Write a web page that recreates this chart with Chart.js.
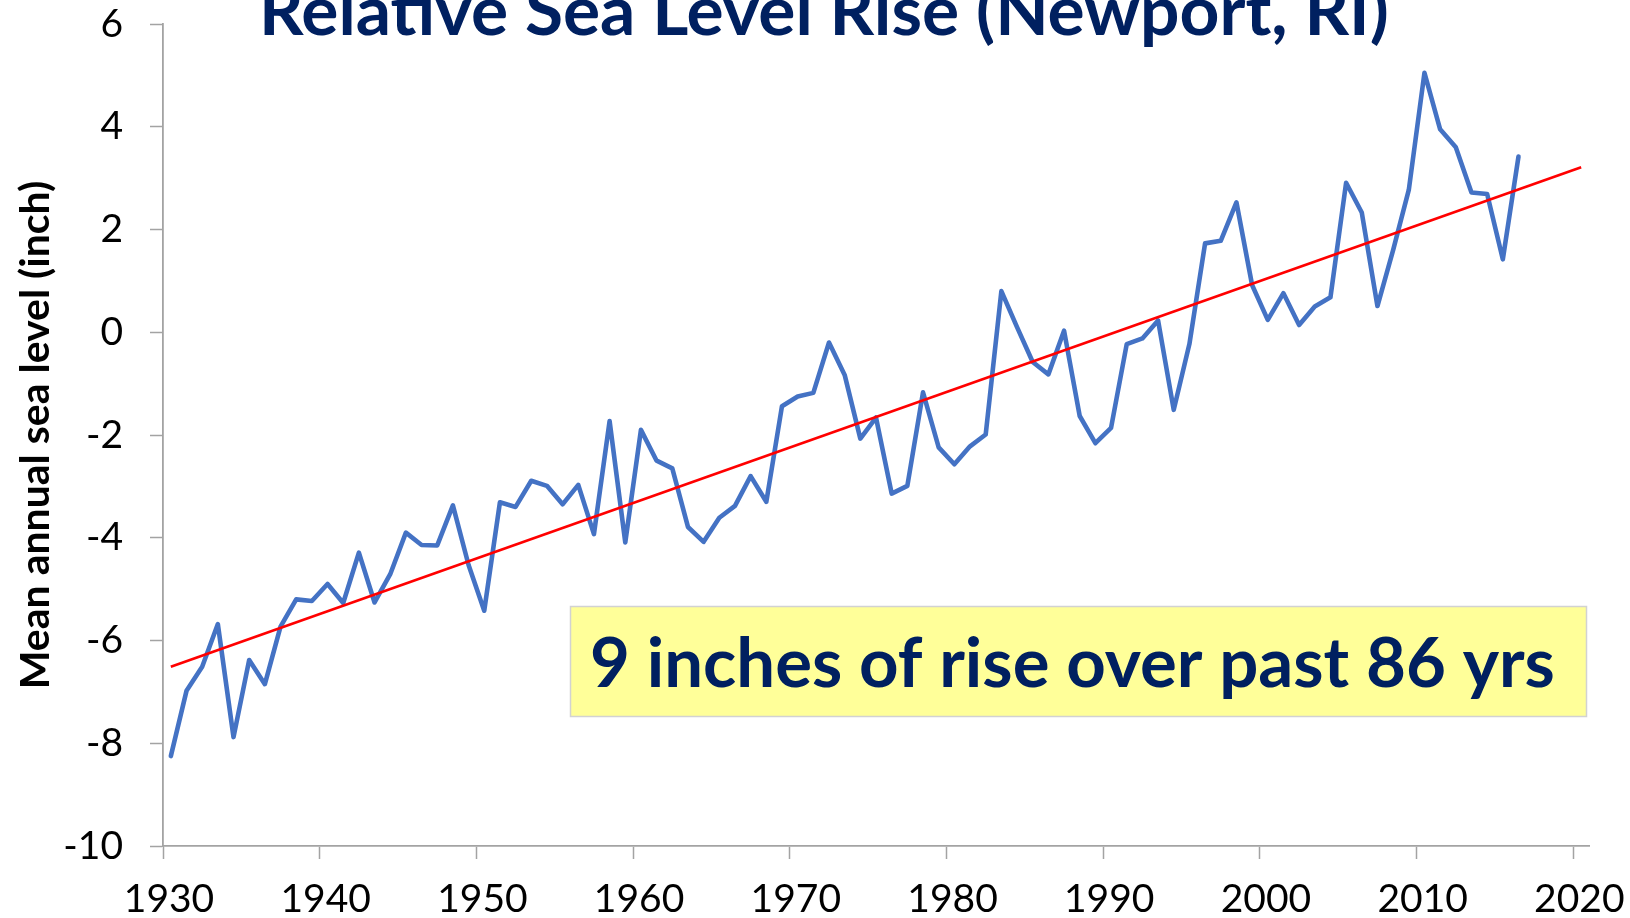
<!DOCTYPE html>
<html>
<head>
<meta charset="utf-8">
<title>Relative Sea Level Rise (Newport, RI)</title>
<style>
  html, body { margin: 0; padding: 0; background: #ffffff; }
  #wrap { width: 1630px; height: 918px; position: relative; overflow: hidden; }
  canvas { display: block; }
</style>
<script src="https://cdn.jsdelivr.net/npm/chart.js@4.4.1/dist/chart.umd.min.js"></script>
</head>
<body>
<div id="wrap"><canvas id="chart" width="1630" height="918"></canvas></div>
<script>
// Annual mean relative sea level at Newport, RI (inches)
const years = [
  1930, 1931, 1932, 1933, 1934, 1935, 1936, 1937, 1938, 1939,
  1940, 1941, 1942, 1943, 1944, 1945, 1946, 1947, 1948, 1949,
  1950, 1951, 1952, 1953, 1954, 1955, 1956, 1957, 1958, 1959,
  1960, 1961, 1962, 1963, 1964, 1965, 1966, 1967, 1968, 1969,
  1970, 1971, 1972, 1973, 1974, 1975, 1976, 1977, 1978, 1979,
  1980, 1981, 1982, 1983, 1984, 1985, 1986, 1987, 1988, 1989,
  1990, 1991, 1992, 1993, 1994, 1995, 1996, 1997, 1998, 1999,
  2000, 2001, 2002, 2003, 2004, 2005, 2006, 2007, 2008, 2009,
  2010, 2011, 2012, 2013, 2014, 2015, 2016
];
const seaLevel = [
  -8.25, -6.98, -6.51, -5.68, -7.88, -6.38, -6.85, -5.73, -5.20, -5.23,
  -4.90, -5.27, -4.29, -5.26, -4.71, -3.90, -4.14, -4.15, -3.37, -4.53,
  -5.42, -3.31, -3.40, -2.89, -2.99, -3.35, -2.97, -3.93, -1.73, -4.09,
  -1.90, -2.50, -2.65, -3.79, -4.08, -3.61, -3.38, -2.80, -3.30, -1.44,
  -1.25, -1.18, -0.20, -0.83, -2.07, -1.66, -3.14, -2.99, -1.17, -2.24,
  -2.57, -2.22, -1.99,  0.80,  0.10, -0.58, -0.82,  0.03, -1.63, -2.16,
  -1.86, -0.23, -0.12,  0.23, -1.51, -0.23,  1.73,  1.78,  2.53,  0.92,
   0.24,  0.76,  0.14,  0.50,  0.68,  2.91,  2.33,  0.51,  1.60,  2.77,
   5.05,  3.95,  3.60,  2.72,  2.69,  1.42,  3.42
];

// Linear trend line end points (mid-year positions)
const trendYears = [1930.5, 2020.5];
const trendLevel = [-6.51, 3.21];

// Axis tick values
const xTickValues = [1930, 1940, 1950, 1960, 1970, 1980, 1990, 2000, 2010, 2020];
const yTickValues = [-10, -8, -6, -4, -2, 0, 2, 4, 6];

const titleText = 'Relative Sea Level Rise (Newport, RI)';
const yAxisTitle = 'Mean annual sea level (inch)';
const noteText = '9 inches of rise over past 86 yrs';

const NAVY = '#002060';
const AXIS_GREY = '#a3a3a3';
const FONT = 'Lato, "Open Sans", sans-serif';

// Annual means are plotted at the middle of each year
const seriesPoints = years.map((yr, i) => ({ x: yr + 0.5, y: seaLevel[i] }));
const trendPoints = trendYears.map((yr, i) => ({ x: yr, y: trendLevel[i] }));

// Font size that makes a string span the given pixel width
function fitFont(ctx, text, width, weight) {
  ctx.font = `${weight} 100px ${FONT}`;
  const w = ctx.measureText(text).width;
  return 100 * width / w;
}

// Title above the plot and the yellow call-out box
const overlayText = {
  id: 'overlayText',
  afterDraw(chart) {
    const ctx = chart.ctx;
    ctx.save();

    // title
    const tSize = fitFont(ctx, titleText, 1130, 'bold');
    ctx.font = `bold ${tSize}px ${FONT}`;
    ctx.fillStyle = NAVY;
    ctx.textAlign = 'left';
    ctx.textBaseline = 'alphabetic';
    ctx.fillText(titleText, 259, 35);

    // call-out box
    const bx = 570.5, by = 606.5, bw = 1016, bh = 110;
    ctx.fillStyle = '#ffff99';
    ctx.fillRect(bx, by, bw, bh);
    ctx.strokeStyle = '#d2d2d2';
    ctx.lineWidth = 1.5;
    ctx.strokeRect(bx, by, bw, bh);

    const nSize = fitFont(ctx, noteText, 965, 'bold');
    ctx.font = `bold ${nSize}px ${FONT}`;
    ctx.fillStyle = NAVY;
    ctx.fillText(noteText, 590, 687);

    ctx.restore();
  }
};

function build() {
  const ctx = document.getElementById('chart').getContext('2d');
  new Chart(ctx, {
    type: 'scatter',
    data: {
      datasets: [
        {
          label: 'Linear trend',
          data: trendPoints,
          showLine: true,
          borderColor: '#ff0000',
          borderWidth: 2.6,
          pointRadius: 0,
          pointHoverRadius: 0,
          tension: 0
        },
        {
          label: 'Mean annual sea level',
          data: seriesPoints,
          showLine: true,
          borderColor: '#4472c4',
          borderWidth: 4.6,
          borderJoinStyle: 'round',
          borderCapStyle: 'round',
          pointRadius: 0,
          pointHoverRadius: 0,
          tension: 0
        }
      ]
    },
    options: {
      responsive: false,
      animation: false,
      layout: { padding: { left: 0, right: 41, top: 24, bottom: 0 } },
      plugins: {
        legend: { display: false },
        tooltip: { enabled: false },
        title: { display: false }
      },
      scales: {
        x: {
          type: 'linear',
          min: 1930,
          max: 2021,
          afterBuildTicks: (scale) => { scale.ticks = xTickValues.map(v => ({ value: v })); },
          afterFit: (scale) => {
            scale.height = 72;
            scale.paddingLeft = 0;
            scale.paddingRight = 0;
          },
          grid: {
            drawOnChartArea: false,
            drawTicks: true,
            tickLength: 13,
            tickColor: AXIS_GREY,
            tickWidth: 1.5
          },
          border: { display: true, color: AXIS_GREY, width: 1.8 },
          ticks: {
            autoSkip: false,
            maxRotation: 0,
            padding: 17,
            labelOffset: 6,
            color: '#000000',
            font: { family: FONT, size: 39 },
            callback: (v) => String(v)
          }
        },
        y: {
          type: 'linear',
          min: -10,
          max: 6,
          afterBuildTicks: (scale) => { scale.ticks = yTickValues.map(v => ({ value: v })); },
          afterFit: (scale) => {
            scale.width = 163;
            scale.paddingTop = 0;
            scale.paddingBottom = 0;
          },
          grid: {
            drawOnChartArea: false,
            drawTicks: true,
            tickLength: 13,
            tickColor: AXIS_GREY,
            tickWidth: 1.5
          },
          border: { display: true, color: AXIS_GREY, width: 1.8 },
          ticks: {
            padding: 27,
            color: '#000000',
            font: { family: FONT, size: 39 },
            callback: (v) => String(v)
          },
          title: {
            display: true,
            text: yAxisTitle,
            color: '#000000',
            font: { family: FONT, size: 41, weight: 'bold' },
            padding: { top: 11, bottom: 0 }
          }
        }
      }
    },
    plugins: [overlayText]
  });
}

Promise.all([
  document.fonts.load(`39px ${FONT}`),
  document.fonts.load(`bold 39px ${FONT}`)
]).then(build, build);
</script>
</body>
</html>
